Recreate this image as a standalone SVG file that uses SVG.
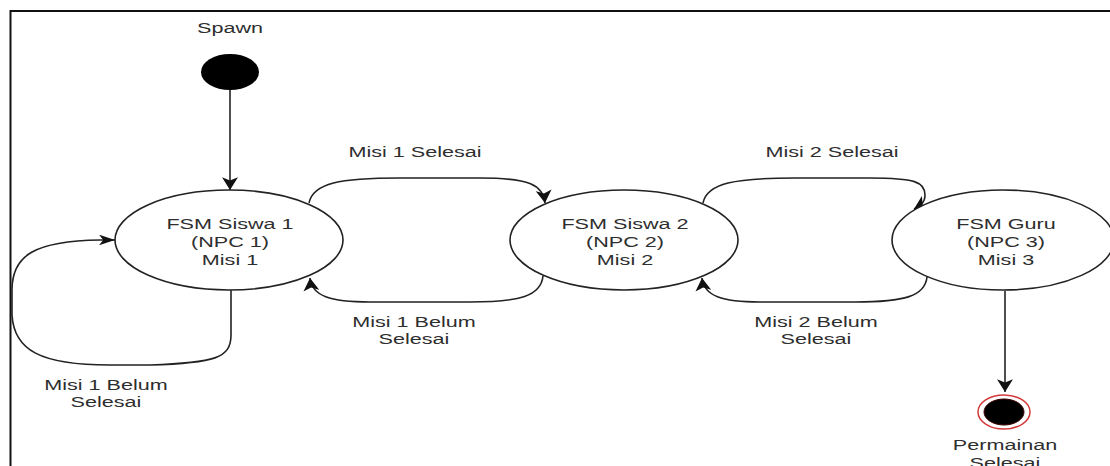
<svg xmlns="http://www.w3.org/2000/svg" width="1110" height="466" viewBox="0 0 1110 466">
<style>
.t{font-family:"Liberation Sans",Arial,sans-serif;font-size:15px;fill:#2e2e2e;text-anchor:middle}
.st{fill:#fff;stroke:#222;stroke-width:1.6}
.e{fill:none;stroke:#222;stroke-width:1.6}
</style>
<defs>
<marker id="av" markerUnits="userSpaceOnUse" markerWidth="13" markerHeight="16" refX="12" refY="7.5" orient="auto" viewBox="0 0 12 15">
<path d="M0,0 L12,7.5 L0,15 L3,7.5 Z" fill="#111"/>
</marker>
<marker id="ah" markerUnits="userSpaceOnUse" markerWidth="16" markerHeight="11" refX="15" refY="5" orient="auto" viewBox="0 0 15 10">
<path d="M0,0 L15,5 L0,10 L4,5 Z" fill="#111"/>
</marker>
</defs>
<rect x="0" y="0" width="1110" height="466" fill="#fff"/>
<rect x="10.5" y="11" width="1200" height="600" fill="none" stroke="#111" stroke-width="2"/>

<g id="connectors">
<path class="e" d="M230,90 L230,190" marker-end="url(#av)"/>
<path class="e" d="M309,203 C313,183 340,178 400,178 L480,178 C530,178 543,185 545,203" marker-end="url(#av)"/>
<path class="e" d="M543,276 C541,296 520,302 470,302 L370,302 C330,302 312,296 310,278" marker-end="url(#av)"/>
<path class="e" d="M703,203 C707,183 735,178 795,178 L870,178 C915,178 925,182 925,195 C925,203 920,206 914,209" marker-end="url(#av)"/>
<path class="e" d="M927,277 C925,296 905,302 855,302 L760,302 C722,302 704,296 702,278" marker-end="url(#av)"/>
<path class="e" d="M231,290 L231,335 C231,358 215,363 150,365 L110,365 C40,365 14,350 12,315 L12,290 C12,255 35,241 100,240 L115,240" marker-end="url(#ah)"/>
<path class="e" d="M1005,291 L1005,392" marker-end="url(#av)"/>
<text class="t" transform="translate(415,157) scale(1.44,1)">Misi 1 Selesai</text>
<text class="t" transform="translate(414,327) scale(1.44,1)">Misi 1 Belum</text>
<text class="t" transform="translate(414,344) scale(1.44,1)">Selesai</text>
<text class="t" transform="translate(832,157) scale(1.44,1)">Misi 2 Selesai</text>
<text class="t" transform="translate(816,327) scale(1.44,1)">Misi 2 Belum</text>
<text class="t" transform="translate(816,344) scale(1.44,1)">Selesai</text>
<text class="t" transform="translate(106,390) scale(1.44,1)">Misi 1 Belum</text>
<text class="t" transform="translate(106,407) scale(1.44,1)">Selesai</text>
</g>

<g id="spawn">
<ellipse cx="230" cy="72" rx="29" ry="18" fill="#000"/>
<text class="t" transform="translate(230,33) scale(1.44,1)">Spawn</text>
</g>

<g id="siswa1">
<ellipse class="st" cx="229" cy="240" rx="114" ry="50"/>
<text class="t" transform="translate(230,229) scale(1.44,1)">FSM Siswa 1</text>
<text class="t" transform="translate(230,247) scale(1.44,1)">(NPC 1)</text>
<text class="t" transform="translate(230,265) scale(1.44,1)">Misi 1</text>
</g>

<g id="siswa2">
<ellipse class="st" cx="624" cy="240" rx="114" ry="50"/>
<text class="t" transform="translate(625,229) scale(1.44,1)">FSM Siswa 2</text>
<text class="t" transform="translate(625,247) scale(1.44,1)">(NPC 2)</text>
<text class="t" transform="translate(625,265) scale(1.44,1)">Misi 2</text>
</g>

<g id="guru">
<ellipse class="st" cx="1003" cy="240" rx="111" ry="50"/>
<text class="t" transform="translate(1006,229) scale(1.44,1)">FSM Guru</text>
<text class="t" transform="translate(1006,247) scale(1.44,1)">(NPC 3)</text>
<text class="t" transform="translate(1006,265) scale(1.44,1)">Misi 3</text>
</g>

<g id="selesai">
<ellipse cx="1004" cy="412" rx="26" ry="17" fill="#fff" stroke="#d43a3a" stroke-width="1.5"/>
<ellipse cx="1004" cy="412" rx="20" ry="13" fill="#000" stroke="#3a0000" stroke-width="1"/>
<text class="t" transform="translate(1005,450) scale(1.44,1)">Permainan</text>
<text class="t" transform="translate(1005,467.5) scale(1.44,1)">Selesai</text>
</g>
</svg>
